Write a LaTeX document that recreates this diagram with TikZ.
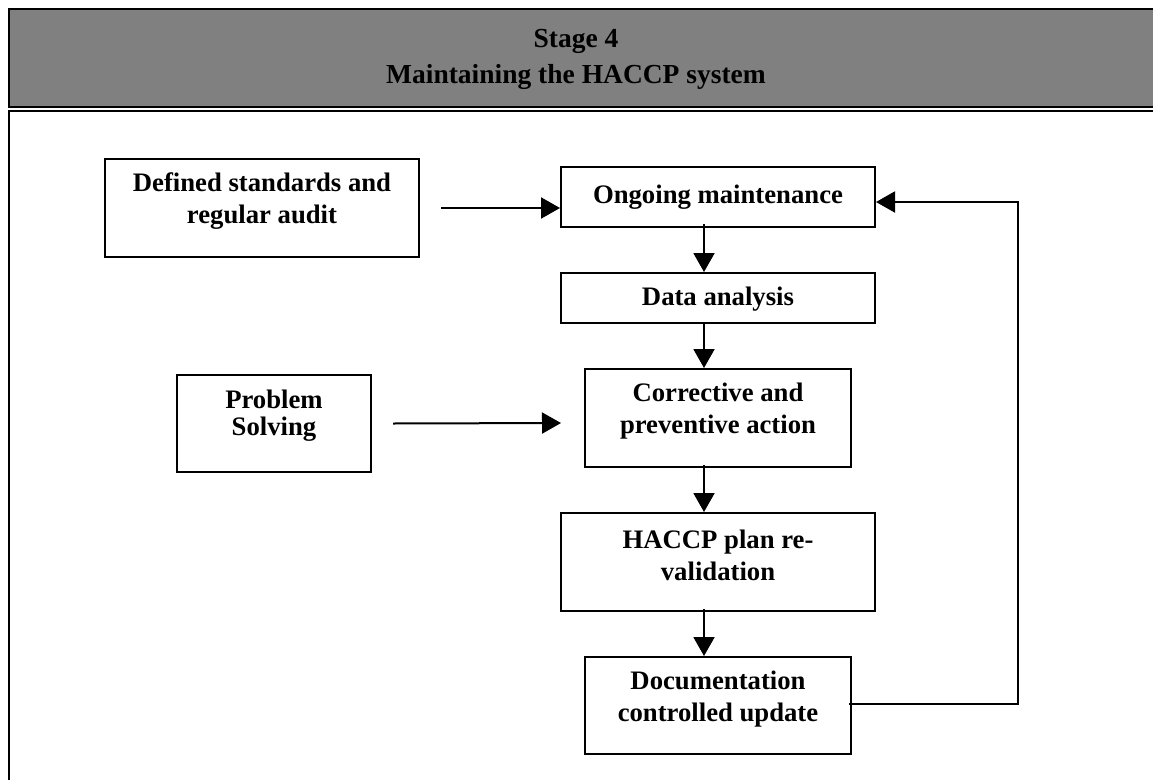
\documentclass[tikz,border=0pt]{standalone}
\usepackage{fontspec}
\setmainfont{Liberation Serif}
\usepackage{xcolor}
\usetikzlibrary{calc,arrows.meta}
\definecolor{headgray}{RGB}{128,128,128}

\begin{document}
\begin{tikzpicture}[x=1pt, y=-1pt,
  stepbox/.style={draw, line width=2pt, inner sep=0pt},
  lbl/.style={font=\bfseries\fontsize{26.7}{32}\selectfont, align=center, inner sep=0pt},
  flow/.style={line width=2pt, -{Triangle[length=19pt, width=21pt]}}]
\useasboundingbox (0,0) rectangle (1153,779);
% header band and frame
\draw[fill=headgray, line width=2.5pt] (9,9) rectangle (1170,107);
\node[lbl, font=\bfseries\fontsize{27.5}{36}\selectfont] (title) at (576,59) {Stage 4\\Maintaining the HACCP system};
\draw[line width=2.5pt] (1170,111) -- (9,111) -- (9,800);
% boxes
\node[stepbox, minimum width=314pt, minimum height=98pt] (std) at (262,208) {};
\node[lbl] (stdtxt) at (262,201) {Defined standards and\\regular audit};
\node[stepbox, minimum width=314pt, minimum height=60pt] (ongo) at (718,197) {};
\node[lbl] (ongotxt) at (718,197) {Ongoing maintenance};
\node[stepbox, minimum width=314pt, minimum height=50pt] (data) at (718,298) {};
\node[lbl] (datatxt) at (718,299) {Data analysis};
\node[stepbox, minimum width=194pt, minimum height=97pt] (prob) at (274,423.5) {};
\node[lbl, font=\bfseries\fontsize{26.7}{27}\selectfont] (probtxt) at (274,416) {Problem\\Solving};
\node[stepbox, minimum width=266pt, minimum height=98pt] (corr) at (718,418) {};
\node[lbl] (corrtxt) at (718,411) {Corrective and\\preventive action};
\node[stepbox, minimum width=314pt, minimum height=98pt] (haccp) at (718,562) {};
\node[lbl] (haccptxt) at (718,555) {HACCP plan re-\\validation};
\node[stepbox, minimum width=266pt, minimum height=97pt] (doc) at (718,705.5) {};
\node[lbl] (doctxt) at (718,699) {Documentation\\controlled update};
\coordinate (probend) at (561,423);
% connectors
\draw[flow] ([xshift=21pt]std.east) -- (std.east -| ongo.west);
\draw[flow] ([xshift=21pt]prob.east) -- (probend);
\draw[flow] ([xshift=-14pt, yshift=4pt]ongo.south) -- ([xshift=-14pt]data.north);
\draw[flow] ([xshift=-14pt]data.south) -- ([xshift=-14pt]corr.north);
\draw[flow] ([xshift=-14pt, yshift=3pt]corr.south) -- ([xshift=-14pt]haccp.north);
\draw[flow] ([xshift=-14pt, yshift=3pt]haccp.south) -- ([xshift=-14pt]doc.north);
\draw[flow] ([xshift=-3pt, yshift=1.5pt]doc.east) -- ++(169,0) |- ([yshift=-5pt]ongo.east);
\end{tikzpicture}
\end{document}
